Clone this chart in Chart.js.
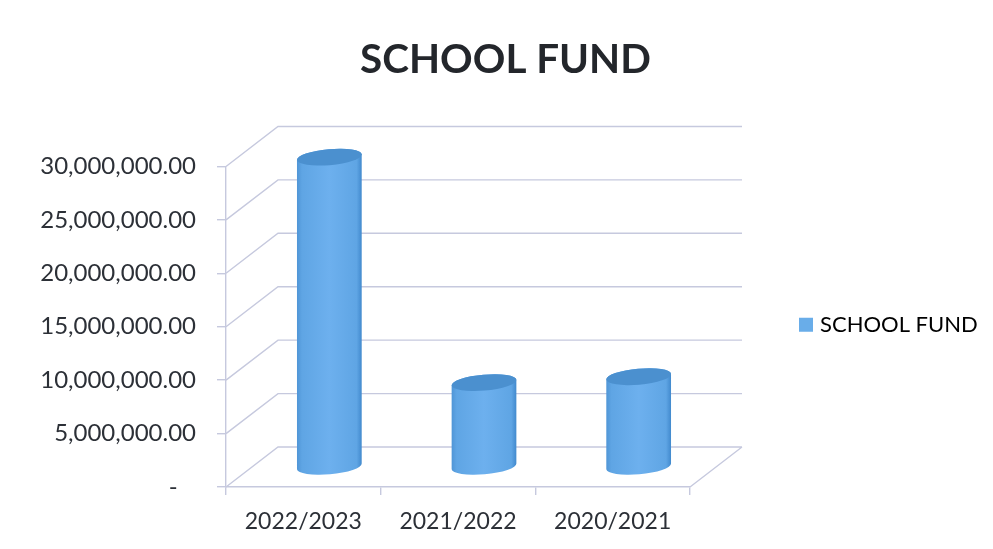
<!DOCTYPE html>
<html><head><meta charset="utf-8">
<style>html,body{margin:0;padding:0;background:#fff}#w{width:993px;height:549px}</style>
<script src="https://cdn.jsdelivr.net/npm/chart.js@4"></script></head>
<body><div id="w"><canvas id="c" width="993" height="549"></canvas></div>
<script>
const categories = ["2022/2023","2021/2022","2020/2021"];
const seriesName = "SCHOOL FUND";
const schoolFund = [29000000,7900000,8450000];
const tickValues = [0,5000000,10000000,15000000,20000000,25000000,30000000];
const FONT = "Lato, Carlito, sans-serif";
const GRID = "#c6c9de", TXT = "#2c3037", BLUE = "#69ade9";
const DX = 52, DY = 40;

const wall3d = {
  id: "wall3d",
  afterLayout(chart) {
    chart.titleBlock.left = 18;
    const lg = chart.legend, a = chart.chartArea;
    lg.left = 793; lg.right = 993;
    lg.top = a.top - 4; lg.bottom = a.bottom;
  },
  beforeDatasetsDraw(chart) {
    const {ctx, chartArea: a, scales: {y}} = chart;
    ctx.save();
    ctx.strokeStyle = GRID; ctx.lineWidth = 1.4;
    ctx.beginPath();
    for (const v of tickValues) {
      const p = y.getPixelForValue(v);
      ctx.moveTo(a.left, p); ctx.lineTo(a.left + DX, p - DY); ctx.lineTo(a.right + DX, p - DY);
    }
    const b = y.getPixelForValue(0);
    ctx.moveTo(a.right, b); ctx.lineTo(a.right + DX, b - DY);
    ctx.stroke();
    ctx.restore();
  },
  afterDatasetsDraw(chart) {
    const {ctx} = chart;
    const rot = -5 * Math.PI / 180;
    chart.getDatasetMeta(0).data.forEach(el => {
      const cx = el.x + DX / 2, top = el.y - DY / 2, bot = el.base - DY / 2;
      const rx = el.width / 2, ry = 8;
      const g = ctx.createLinearGradient(cx - rx, 0, cx + rx, 0);
      g.addColorStop(0, "#4f95d6"); g.addColorStop(0.08, "#5fa5e4");
      g.addColorStop(0.5, "#6db0ee"); g.addColorStop(0.92, "#5fa5e4"); g.addColorStop(1, "#4189cd");
      ctx.save();
      ctx.beginPath();
      ctx.ellipse(cx, top, rx, ry, rot, Math.PI, 0, false);
      ctx.ellipse(cx, bot, rx, ry, rot, 0, Math.PI, false);
      ctx.closePath();
      ctx.fillStyle = g; ctx.fill();
      ctx.beginPath();
      ctx.ellipse(cx, top, rx, ry, rot, 0, Math.PI * 2);
      ctx.fillStyle = "#4b90cf"; ctx.fill();
      ctx.restore();
    });
  }
};

new Chart(document.getElementById("c"), {
  type: "bar",
  data: { labels: categories, datasets: [{ label: seriesName, data: schoolFund,
    backgroundColor: "transparent", borderWidth: 0,
    categoryPercentage: 1, barPercentage: 0.42, yAxisID: "y" }] },
  plugins: [wall3d],
  options: {
    responsive: false, animation: false,
    layout: { padding: 0 },
    plugins: {
      tooltip: { enabled: false },
      title: { display: true, text: seriesName, color: "#23262b",
        font: { family: FONT, size: 40.4, weight: "bold", lineHeight: 1.2 },
        padding: { top: 36, bottom: 82 } },
      legend: { position: "right",
        labels: { boxWidth: 6, boxHeight: 6, padding: 10, color: TXT,
          font: { family: FONT, size: 22 },
          generateLabels: () => [{ text: seriesName, fillStyle: BLUE, strokeStyle: BLUE, lineWidth: 8, datasetIndex: 0 }] } }
    },
    scales: {
      x: {
        ticks: { color: TXT, font: { family: FONT, size: 23 }, padding: 13, maxRotation: 0 },
        grid: { color: GRID, lineWidth: 1.4, drawOnChartArea: false, tickLength: 8, offset: true },
        border: { color: GRID, width: 1.4 },
        afterFit(s) { s.height = 62; }
      },
      y: {
        min: 0, max: 30000000,
        afterBuildTicks(s) { s.ticks = tickValues.map(v => ({ value: v })); },
        ticks: { color: TXT, font: { family: FONT, size: 24 }, padding: 21,
          callback: v => v === 0 ? "-\u00a0\u00a0\u00a0" : v.toLocaleString("en-US", { minimumFractionDigits: 2, maximumFractionDigits: 2 }) },
        grid: { color: GRID, lineWidth: 1.4, drawOnChartArea: false, tickLength: 9 },
        border: { color: GRID, width: 1.4 },
        afterFit(s) { s.width = 226; }
      },
      spacer: {
        position: "right", display: true, min: 0, max: 1,
        grid: { display: false }, border: { display: false }, ticks: { display: false },
        afterFit(s) { s.width = 137.5; }
      }
    }
  }
});
</script></body></html>
